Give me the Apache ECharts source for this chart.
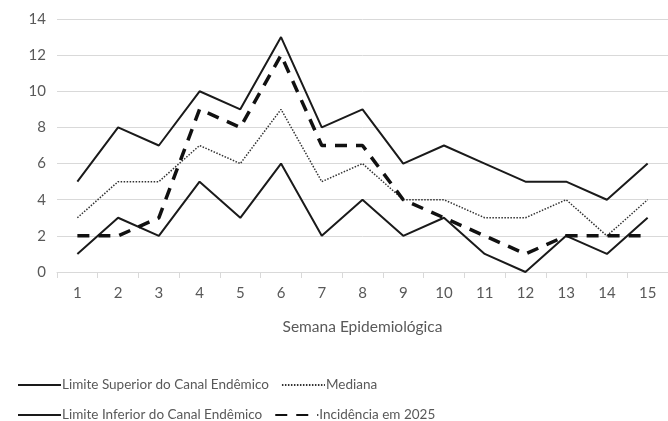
<!DOCTYPE html>
<html>
<head>
<meta charset="utf-8">
<script src="https://cdn.jsdelivr.net/npm/echarts@6/dist/echarts.min.js"></script>
<style>
  html, body { margin: 0; padding: 0; background: #fff; }
  #chart { width: 668px; height: 421px; }
</style>
</head>
<body>
<div id="chart"></div>
<script>
  var semanas = ['1','2','3','4','5','6','7','8','9','10','11','12','13','14','15'];
  var limiteSuperior = [5, 8, 7, 10, 9, 13, 8, 9, 6, 7, 6, 5, 5, 4, 6];
  var mediana = [3, 5, 5, 7, 6, 9, 5, 6, 4, 4, 3, 3, 4, 2, 4];
  var limiteInferior = [1, 3, 2, 5, 3, 6, 2, 4, 2, 3, 1, 0, 2, 1, 3];
  var incidencia2025 = [2, 2, 3, 9, 8, 12, 7, 7, 4, 3, 2, 1, 2, 2, 2];

  var fonte = 'Lato, "Open Sans", sans-serif';
  var charts = echarts.init(document.getElementById('chart'));

  var legendaTexto = { fontFamily: fonte, fontSize: 13.5, color: '#595959', padding: [0, 0, 0, -4] };

  var option = {
    animation: false,
    textStyle: { fontFamily: fonte },
    grid: { left: 57, right: -12, top: 19, bottom: 149 },
    legend: [{
      left: 12, top: 373, itemWidth: 43, itemHeight: 4, itemGap: 12,
      itemStyle: { opacity: 0 },
      textStyle: legendaTexto,
      data: ['Limite Superior do Canal Endêmico', 'Mediana']
    }, {
      left: 12, top: 403, itemWidth: 43, itemHeight: 4, itemGap: 12,
      itemStyle: { opacity: 0 },
      textStyle: legendaTexto,
      data: ['Limite Inferior do Canal Endêmico', 'Incidência em 2025']
    }],
    xAxis: {
      type: 'category',
      data: semanas,
      boundaryGap: true,
      name: 'Semana Epidemiológica',
      nameLocation: 'middle',
      nameGap: 47,
      nameTextStyle: { fontFamily: fonte, fontSize: 15.5, color: '#595959' },
      axisLine: { lineStyle: { color: '#d9d9d9', width: 1 } },
      axisTick: { show: true, length: 6, lineStyle: { color: '#d9d9d9' } },
      axisLabel: { fontFamily: fonte, fontSize: 15, color: '#595959', margin: 14 }
    },
    yAxis: {
      type: 'value',
      min: 0, max: 14, interval: 2,
      axisLine: { show: false },
      axisTick: { show: false },
      axisLabel: { fontFamily: fonte, fontSize: 15, color: '#595959', margin: 11 },
      splitLine: { lineStyle: { color: '#d9d9d9', width: 1 } }
    },
    series: [{
      name: 'Limite Superior do Canal Endêmico',
      type: 'line', data: limiteSuperior, symbol: 'none',
      itemStyle: { color: '#1a1a1a' },
      lineStyle: { color: '#1a1a1a', width: 2 }
    }, {
      name: 'Mediana',
      type: 'line', data: mediana, symbol: 'none',
      itemStyle: { color: '#333' },
      lineStyle: { color: '#333', width: 1.5, type: [1.5, 1.5] }
    }, {
      name: 'Limite Inferior do Canal Endêmico',
      type: 'line', data: limiteInferior, symbol: 'none',
      itemStyle: { color: '#1a1a1a' },
      lineStyle: { color: '#1a1a1a', width: 2 }
    }, {
      name: 'Incidência em 2025',
      type: 'line', data: incidencia2025, symbol: 'none',
      itemStyle: { color: '#111' },
      lineStyle: { color: '#111', width: 3.5, type: [12, 9] }
    }]
  };

  charts.setOption(option);
</script>
</body>
</html>
